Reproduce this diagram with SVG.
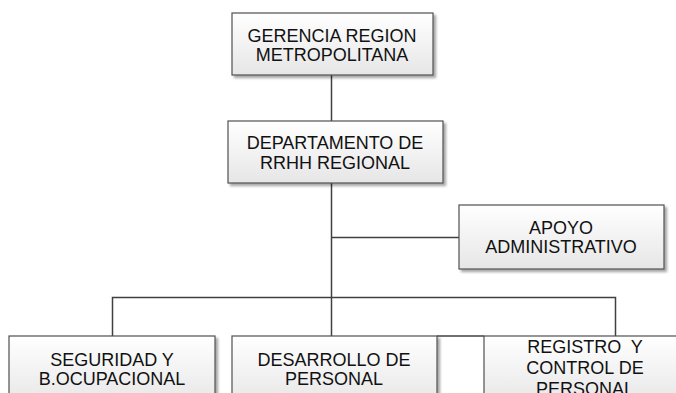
<svg xmlns="http://www.w3.org/2000/svg" width="676" height="393" viewBox="0 0 676 393">
<defs>
<linearGradient id="g" x1="0" y1="0" x2="0" y2="1">
<stop offset="0" stop-color="#ffffff"/>
<stop offset="1" stop-color="#e6e6e6"/>
</linearGradient>
<filter id="sh" x="-10%" y="-10%" width="130%" height="140%">
<feDropShadow dx="2.5" dy="2.5" stdDeviation="0.8" flood-color="#000" flood-opacity="0.35"/>
</filter>
</defs>
<style>
.box{fill:url(#g);stroke:#505050;stroke-width:1.2;filter:url(#sh)}
.t{font-family:"Liberation Sans",Arial,sans-serif;font-size:18px;fill:#111;text-anchor:middle}
.c{stroke:#404040;stroke-width:1.5;fill:none}
</style>
<rect width="676" height="393" fill="#fff"/>
<g id="connectors">
<line class="c" x1="331.5" y1="75" x2="331.5" y2="121"/>
<line class="c" x1="331.5" y1="183" x2="331.5" y2="336"/>
<line class="c" x1="331.5" y1="237.5" x2="459" y2="237.5"/>
<polyline class="c" points="112.5,336 112.5,297.5 615.5,297.5 615.5,336"/>
<line class="c" x1="437" y1="336" x2="484" y2="336"/>
</g>
<g id="gerencia">
<rect class="box" x="232" y="13" width="201" height="62"/>
<text class="t" x="332" y="41.5">GERENCIA REGION</text>
<text class="t" x="332" y="61">METROPOLITANA</text>
</g>
<g id="departamento">
<rect class="box" x="228" y="121" width="215" height="62"/>
<text class="t" x="335" y="149">DEPARTAMENTO DE</text>
<text class="t" x="335" y="168.5">RRHH REGIONAL</text>
</g>
<g id="apoyo">
<rect class="box" x="459" y="205" width="205" height="64"/>
<text class="t" x="561" y="233.5">APOYO</text>
<text class="t" x="561" y="253">ADMINISTRATIVO</text>
</g>
<g id="seguridad">
<rect class="box" x="9" y="336" width="206" height="70"/>
<text class="t" x="112" y="365.5">SEGURIDAD Y</text>
<text class="t" x="112" y="384.5">B.OCUPACIONAL</text>
</g>
<g id="desarrollo">
<rect class="box" x="232" y="336" width="205" height="70"/>
<text class="t" x="334" y="365.5">DESARROLLO DE</text>
<text class="t" x="334" y="384.5">PERSONAL</text>
</g>
<g id="registro">
<rect class="box" x="484" y="336" width="205" height="70"/>
<text class="t" x="585" y="352.5" xml:space="preserve">REGISTRO  Y</text>
<text class="t" x="585" y="373.5">CONTROL DE</text>
<text class="t" x="585" y="394.5">PERSONAL</text>
</g>
</svg>
